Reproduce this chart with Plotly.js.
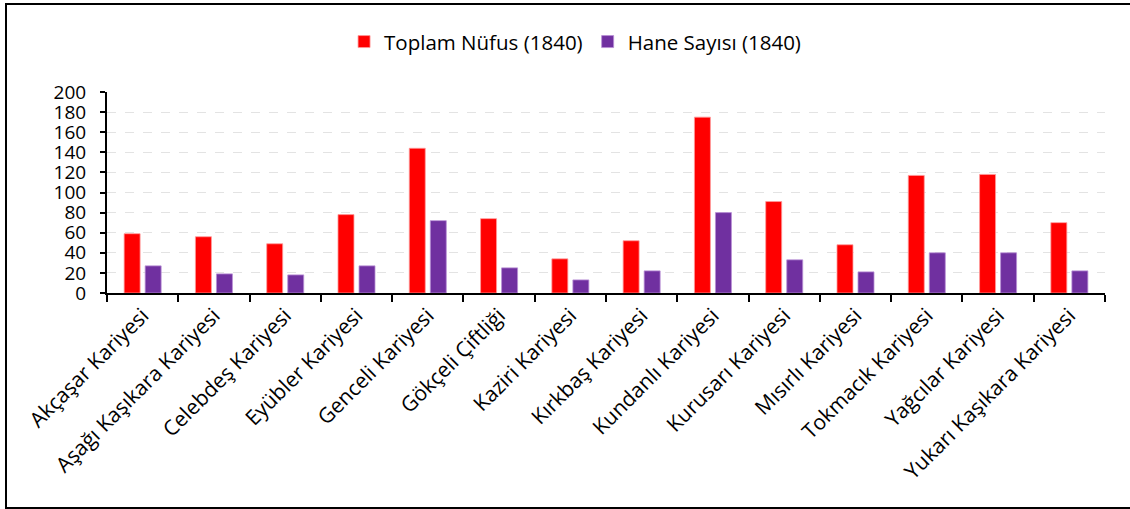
<!DOCTYPE html>
<html>
<head>
<meta charset="utf-8">
<script src="https://cdn.plot.ly/plotly-3.0.1.min.js"></script>
<style>
  html, body { margin: 0; padding: 0; background: #fff; }
  #wrap { position: relative; width: 1130px; height: 509px; overflow: hidden; }
  #frame { position: absolute; left: 5px; top: 3px; width: 1140px; height: 502px; border: 2px solid #000; box-sizing: content-box; pointer-events: none; z-index: 5; }
  #chart { position: absolute; left: 0; top: 0; width: 1130px; height: 509px; }
</style>
</head>
<body>
<div id="wrap">
  <div id="chart"></div>
  <div id="frame"></div>
</div>
<script>
const categories = [
  "Akçaşar Kariyesi", "Aşağı Kaşıkara Kariyesi", "Celebdeş Kariyesi", "Eyübler Kariyesi",
  "Genceli Kariyesi", "Gökçeli Çiftliği", "Kaziri Kariyesi", "Kırkbaş Kariyesi",
  "Kundanlı Kariyesi", "Kurusarı Kariyesi", "Mısırlı Kariyesi", "Tokmacık Kariyesi",
  "Yağcılar Kariyesi", "Yukarı Kaşıkara Kariyesi"
];
const toplamNufus = [59, 56, 49, 78, 144, 74, 34, 52, 175, 91, 48, 117, 118, 70];
const haneSayisi = [27, 19, 18, 27, 72, 25, 13, 22, 80, 33, 21, 40, 40, 22];
const seriesNames = ["Toplam Nüfus (1840)", "Hane Sayısı (1840)"];
const yTicks = [0, 20, 40, 60, 80, 100, 120, 140, 160, 180, 200];

const FONT = "Open Sans, sans-serif";

const traces = [
  { type: "bar", name: seriesNames[0], x: categories, y: toplamNufus,
    marker: { color: "#FF0000", line: { width: 0.8, color: "#ff9a9a" } } },
  { type: "bar", name: seriesNames[1], x: categories, y: haneSayisi,
    marker: { color: "#7030A0", line: { width: 0.8, color: "#b98fd6" } } }
];

const layout = {
  width: 1130, height: 509,
  margin: { l: 107, r: 25, t: 92, b: 216 },
  paper_bgcolor: "#fff", plot_bgcolor: "#fff",
  font: { family: FONT, color: "#000", size: 18 },
  barmode: "group", bargap: 0.41, bargroupgap: 0.24,
  showlegend: true,
  legend: { orientation: "h", x: 0.469, xanchor: "center", y: 1.25, yanchor: "middle",
            font: { family: FONT, size: 20.5 }, itemwidth: 30, traceorder: "normal" },
  xaxis: {
    type: "category", tickson: "boundaries", ticks: "outside", ticklen: 7, tickwidth: 2,
    tickcolor: "#000", showline: true, linecolor: "#000", linewidth: 2, showgrid: false,
    tickangle: -45, tickfont: { family: FONT, size: 21 }, automargin: false
  },
  yaxis: {
    range: [0, 200], tickvals: yTicks, ticks: "outside", ticklen: 5, tickwidth: 2,
    tickcolor: "#000", showline: true, linecolor: "#000", linewidth: 2,
    showgrid: true, gridcolor: "#e3e3e3", griddash: "dash", gridwidth: 1,
    zeroline: false, tickfont: { family: FONT, size: 19 }, ticklabelstandoff: 10,
    automargin: false
  }
};

Plotly.newPlot("chart", traces, layout, { staticPlot: true, displayModeBar: false });
</script>
</body>
</html>
